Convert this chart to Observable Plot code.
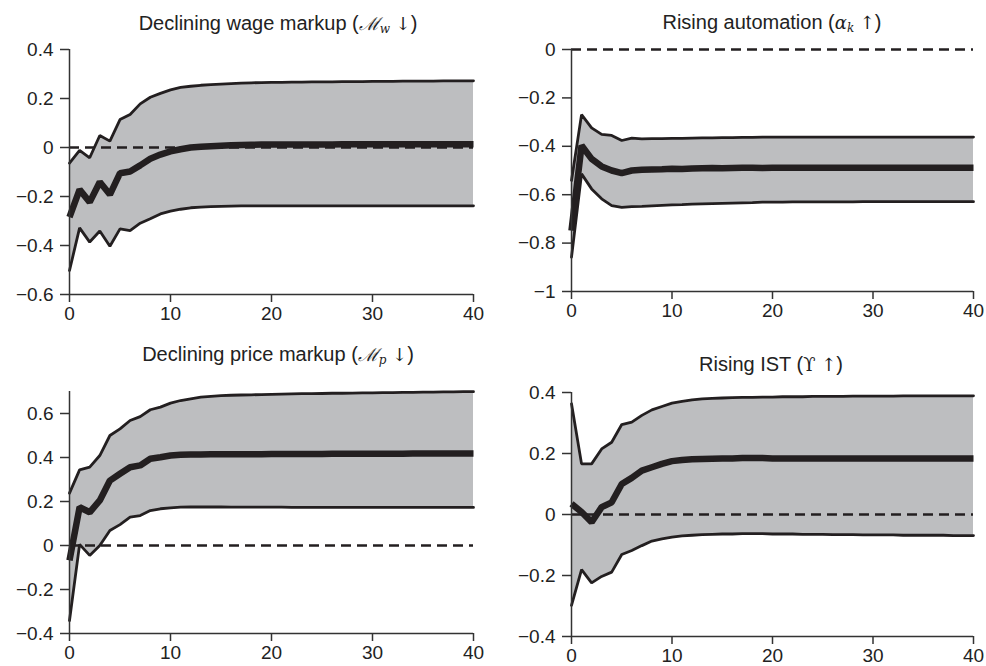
<!DOCTYPE html>
<html>
<head>
<meta charset="utf-8">
<script src="https://cdn.jsdelivr.net/npm/d3@7"></script>
<script src="https://cdn.jsdelivr.net/npm/@observablehq/plot@0.6"></script>
<style>
  html, body { margin: 0; padding: 0; background: #fff; }
  #wrap { position: relative; width: 986px; height: 666px; overflow: hidden; font-family: "Liberation Sans", Arial, Helvetica, sans-serif; color: #222; }
  .panel { position: absolute; }
  .title { position: absolute; width: 480px; text-align: center; font-size: 20px; line-height: 24px; white-space: nowrap; color: #222; }
  .m { font-family: "DejaVu Serif", "Liberation Serif", serif; font-style: italic; font-size: 18px; }
  .m sub { font-size: 12px; vertical-align: -3px; font-style: italic; }
  .up { font-family: "DejaVu Serif", "Liberation Serif", serif; font-style: normal; font-size: 18px; }
</style>
</head>
<body>
<div id="wrap"></div>
<script>
// Horizon (quarters)
const horizon = d3.range(0, 41);

// Panel 1: Declining wage markup
const wageMean = [-0.284,-0.172,-0.223,-0.141,-0.192,-0.105,-0.098,-0.073,-0.046,-0.029,
  -0.016,-0.007,0.000,0.003,0.005,0.007,0.009,0.010,0.011,0.012,
  0.012,0.012,0.012,0.012,0.012,0.012,0.012,0.013,0.013,0.013,
  0.013,0.013,0.013,0.013,0.013,0.013,0.013,0.013,0.013,0.013,0.013];
const wageHi = [-0.064,-0.012,-0.042,0.049,0.026,0.114,0.135,0.178,0.205,0.221,
  0.235,0.245,0.250,0.254,0.257,0.259,0.261,0.263,0.264,0.265,
  0.266,0.266,0.267,0.267,0.268,0.268,0.268,0.269,0.269,0.269,
  0.270,0.270,0.270,0.271,0.271,0.271,0.271,0.272,0.272,0.272,0.272];
const wageLo = [-0.502,-0.328,-0.386,-0.341,-0.403,-0.332,-0.339,-0.309,-0.291,-0.271,
  -0.260,-0.252,-0.246,-0.243,-0.241,-0.240,-0.239,-0.238,-0.238,-0.238,
  -0.238,-0.238,-0.238,-0.238,-0.238,-0.238,-0.238,-0.238,-0.238,-0.238,
  -0.238,-0.238,-0.238,-0.238,-0.238,-0.238,-0.238,-0.238,-0.238,-0.238,-0.238];

// Panel 2: Rising automation
const autoMean = [-0.748,-0.397,-0.452,-0.483,-0.500,-0.511,-0.500,-0.497,-0.496,-0.495,
  -0.493,-0.494,-0.492,-0.491,-0.490,-0.491,-0.490,-0.489,-0.489,-0.490,
  -0.489,-0.489,-0.489,-0.489,-0.489,-0.489,-0.489,-0.489,-0.489,-0.489,
  -0.489,-0.489,-0.489,-0.489,-0.489,-0.489,-0.489,-0.489,-0.489,-0.489,-0.489];
const autoHi = [-0.541,-0.269,-0.324,-0.351,-0.355,-0.376,-0.366,-0.369,-0.368,-0.368,
  -0.367,-0.367,-0.366,-0.365,-0.365,-0.364,-0.364,-0.363,-0.363,-0.362,
  -0.362,-0.362,-0.362,-0.362,-0.362,-0.362,-0.362,-0.362,-0.362,-0.362,
  -0.362,-0.362,-0.362,-0.362,-0.362,-0.362,-0.362,-0.362,-0.362,-0.362,-0.362];
const autoLo = [-0.858,-0.514,-0.576,-0.617,-0.645,-0.652,-0.649,-0.648,-0.646,-0.644,
  -0.642,-0.641,-0.639,-0.638,-0.637,-0.636,-0.635,-0.634,-0.633,-0.631,
  -0.631,-0.631,-0.630,-0.630,-0.630,-0.630,-0.630,-0.630,-0.630,-0.629,
  -0.629,-0.629,-0.629,-0.629,-0.629,-0.629,-0.629,-0.629,-0.629,-0.629,-0.629];

// Panel 3: Declining price markup
const priceMean = [-0.068,0.174,0.151,0.205,0.295,0.326,0.356,0.364,0.394,0.401,
  0.409,0.413,0.414,0.414,0.415,0.415,0.415,0.415,0.415,0.415,
  0.416,0.416,0.416,0.416,0.416,0.416,0.417,0.417,0.417,0.417,
  0.417,0.417,0.417,0.417,0.418,0.418,0.418,0.418,0.418,0.418,0.418];
const priceHi = [0.238,0.344,0.356,0.409,0.500,0.530,0.568,0.586,0.617,0.629,
  0.647,0.659,0.667,0.674,0.678,0.681,0.683,0.684,0.685,0.686,
  0.687,0.688,0.689,0.690,0.690,0.691,0.692,0.692,0.693,0.694,
  0.694,0.695,0.695,0.696,0.696,0.697,0.697,0.698,0.698,0.699,0.699];
const priceLo = [-0.341,0.005,-0.045,0.000,0.068,0.095,0.129,0.136,0.159,0.167,
  0.171,0.174,0.175,0.176,0.175,0.175,0.174,0.174,0.174,0.174,
  0.174,0.174,0.173,0.173,0.173,0.173,0.173,0.173,0.173,0.173,
  0.173,0.173,0.173,0.173,0.173,0.173,0.173,0.173,0.173,0.173,0.173];

// Panel 4: Rising IST
const istMean = [0.035,0.008,-0.025,0.024,0.040,0.100,0.120,0.144,0.155,0.166,
  0.175,0.179,0.181,0.182,0.183,0.184,0.184,0.185,0.185,0.185,
  0.184,0.184,0.184,0.184,0.184,0.184,0.184,0.184,0.184,0.184,
  0.184,0.184,0.184,0.184,0.184,0.184,0.184,0.184,0.184,0.184,0.184];
const istHi = [0.363,0.166,0.166,0.215,0.237,0.295,0.303,0.325,0.343,0.354,
  0.365,0.371,0.376,0.379,0.381,0.382,0.383,0.384,0.384,0.385,
  0.385,0.386,0.386,0.386,0.387,0.387,0.387,0.387,0.388,0.388,
  0.388,0.388,0.388,0.389,0.389,0.389,0.389,0.389,0.389,0.389,0.389];
const istLo = [-0.298,-0.181,-0.224,-0.203,-0.189,-0.131,-0.118,-0.102,-0.087,-0.080,
  -0.074,-0.070,-0.068,-0.066,-0.065,-0.064,-0.064,-0.063,-0.063,-0.063,
  -0.064,-0.064,-0.064,-0.065,-0.065,-0.065,-0.066,-0.066,-0.066,-0.067,
  -0.067,-0.067,-0.067,-0.068,-0.068,-0.068,-0.068,-0.068,-0.069,-0.069,-0.069];

const xTicks = [0, 10, 20, 30, 40];

const panels = [
  {mean: wageMean, hi: wageHi, lo: wageLo, domain: [-0.6, 0.4], ticks: [-0.6,-0.4,-0.2,0,0.2,0.4],
   left: 0, top: 40, mL: 69, mT: 9, plotW: 404, plotH: 245, mB: 30,
   title: 'Declining wage markup (<span class="m">ℳ<sub>w</sub></span> <span class="up">↓</span>)', tx: 38, ty: 11},
  {mean: autoMean, hi: autoHi, lo: autoLo, domain: [-1, 0], ticks: [-1,-0.8,-0.6,-0.4,-0.2,0],
   left: 500, top: 40, mL: 71, mT: 9, plotW: 402, plotH: 242, mB: 30,
   title: 'Rising automation (<span class="m">α<sub>k</sub></span> <span class="up">↑</span>)', tx: 532, ty: 10},
  {mean: priceMean, hi: priceHi, lo: priceLo, domain: [-0.4, 0.7], ticks: [-0.4,-0.2,0,0.2,0.4,0.6],
   left: 0, top: 370, mL: 69, mT: 21, plotW: 404, plotH: 242, mB: 33,
   title: 'Declining price markup (<span class="m">ℳ<sub>p</sub></span> <span class="up">↓</span>)', tx: 38, ty: 342},
  {mean: istMean, hi: istHi, lo: istLo, domain: [-0.4, 0.4], ticks: [-0.4,-0.2,0,0.2,0.4],
   left: 500, top: 370, mL: 71, mT: 22, plotW: 402, plotH: 244, mB: 30,
   title: 'Rising IST (<span class="up">ϒ</span> <span class="up">↑</span>)', tx: 531, ty: 352}
];

const wrap = document.getElementById("wrap");
const fmt = d3.format("");
const ink = "#231f20";

for (const p of panels) {
  const rows = horizon.map((h, i) => ({h, m: p.mean[i], hi: p.hi[i], lo: p.lo[i]}));
  const mR = 13;
  const chart = Plot.plot({
    width: p.mL + p.plotW + mR,
    height: p.mT + p.plotH + p.mB,
    marginLeft: p.mL, marginRight: mR, marginTop: p.mT, marginBottom: p.mB,
    style: {fontFamily: '"Liberation Sans", Arial, Helvetica, sans-serif', fontSize: "19px", color: "#222", background: "transparent", overflow: "visible"},
    x: {domain: [0, 40]},
    y: {domain: p.domain},
    marks: [
      Plot.areaY(rows, {x: "h", y1: "lo", y2: "hi", fill: "#bdbec0"}),
      Plot.ruleY([0], {stroke: ink, strokeWidth: 2.4, strokeDasharray: "10,6"}),
      Plot.lineY(rows, {x: "h", y: "hi", stroke: ink, strokeWidth: 2.8, strokeLinejoin: "miter"}),
      Plot.lineY(rows, {x: "h", y: "lo", stroke: ink, strokeWidth: 2.8, strokeLinejoin: "miter"}),
      Plot.lineY(rows, {x: "h", y: "m", stroke: ink, strokeWidth: 6.5, strokeLinejoin: "miter", strokeLinecap: "butt"}),
      Plot.ruleX([0], {stroke: "#333", strokeWidth: 1.5}),
      Plot.ruleY([p.domain[0]], {stroke: "#333", strokeWidth: 1.5}),
      Plot.axisX({ticks: xTicks, tickSize: 8, tickPadding: 4, stroke: "#333", strokeWidth: 1.5, label: null, tickFormat: fmt, fontSize: 19}),
      Plot.axisY({ticks: p.ticks, tickSize: 9, tickPadding: 7, stroke: "#333", strokeWidth: 1.5, label: null, tickFormat: fmt, fontSize: 19})
    ]
  });
  const div = document.createElement("div");
  div.className = "panel";
  div.style.left = p.left + "px";
  div.style.top = p.top + "px";
  div.appendChild(chart);
  wrap.appendChild(div);

  const t = document.createElement("div");
  t.className = "title";
  t.style.left = p.tx + "px";
  t.style.top = p.ty + "px";
  t.innerHTML = p.title;
  wrap.appendChild(t);
}
</script>
</body>
</html>
